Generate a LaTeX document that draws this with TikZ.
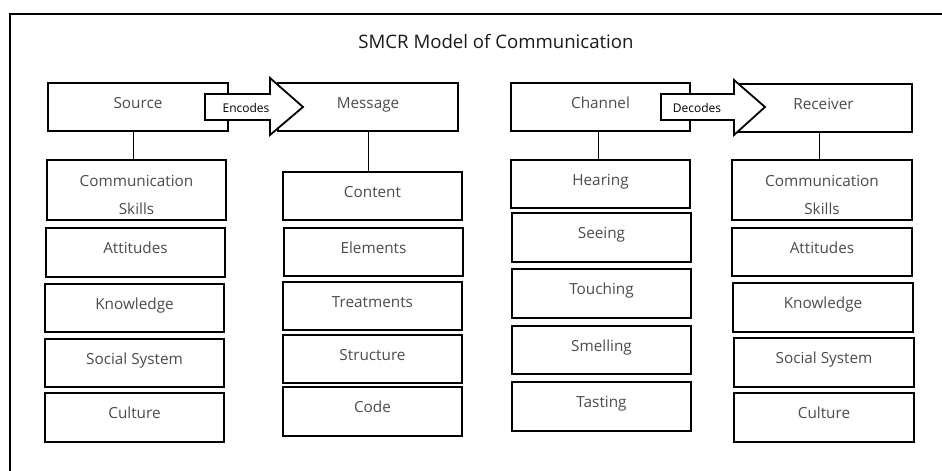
\documentclass[tikz,border=0pt]{standalone}
\usepackage{fontspec}
\setmainfont{Open Sans}
\begin{document}
\begin{tikzpicture}[x=1pt,y=-1pt,
  box/.style={draw=black, line width=1.8pt, fill=white, inner sep=0pt,
    font=\fontsize{15.3}{18}\selectfont, text=black!70,
    text height=10pt, text depth=8pt},
  box2/.style={draw=black, line width=1.8pt, fill=white, inner sep=0pt,
    font=\fontsize{15.3}{28}\selectfont, text=black!70, align=center},
  conn/.style={draw=black, line width=0.8pt},
  bigarrow/.style={draw=black, line width=1.8pt, fill=white, line join=miter},
  arrowtext/.style={font=\fontsize{12}{14}\selectfont, text=black, inner sep=0pt},
  frame/.style={draw=black, line width=2.4pt}
]
\useasboundingbox (0,0) rectangle (942,471);
\newcommand\bx[6]{\node[box, minimum width=#4pt-#2pt, minimum height=#5pt-#3pt] (#1) at ({(#2+#4)/2},{(#3+#5)/2}) {#6};}
\newcommand\bxtwo[6]{\node[box2, minimum width=#4pt-#2pt, minimum height=#5pt-#3pt] (#1) at ({(#2+#4)/2},{(#3+#5)/2}) {#6};}

% frame (cut at right and bottom)
\draw[frame] (10,471) -- (10,14) -- (942,14);

\node[font=\fontsize{18.6}{22}\selectfont, text=black!90] (title) at (496,41) {SMCR Model of Communication};

% Source column
\bx{src}{48}{83}{228}{131}{Source}
\bxtwo{scs}{47}{160}{226}{220}{\rule{0pt}{21pt}Communication\\Skills}
\bx{sat}{46}{228}{225}{277}{Attitudes}
\bx{skn}{45}{284}{224}{332}{Knowledge}
\bx{sss}{45}{339}{224}{387}{Social System}
\bx{scu}{45}{393}{224}{442}{Culture}

% Message column
\bx{msg}{278}{83}{458}{131}{Message}
\bx{mco}{283}{172}{462}{220}{Content}
\bx{mel}{284}{228}{463}{276}{Elements}
\bx{mtr}{283}{282}{462}{330}{Treatments}
\bx{mst}{283}{335}{462}{383}{Structure}
\bx{mcd}{283}{387}{462}{436}{Code}

% Channel column
\bx{chn}{511}{83}{690}{131}{Channel}
\bx{che}{511}{160}{690}{208}{Hearing}
\bx{cse}{512}{213}{691}{262}{Seeing}
\bx{cto}{512}{269}{691}{318}{Touching}
\bx{csm}{512}{326}{691}{374}{Smelling}
\bx{cta}{512}{382}{691}{431}{Tasting}

% Receiver column
\bx{rcv}{735}{84}{912}{132}{Receiver}
\bxtwo{rcs}{732}{160}{912}{220}{\rule{0pt}{21pt}Communication\\Skills}
\bx{rat}{732}{228}{912}{276}{Attitudes}
\bx{rkn}{733}{283}{913}{332}{Knowledge}
\bx{rss}{734}{338}{914}{387}{Social System}
\bx{rcu}{734}{393}{914}{442}{Culture}

% connectors
\draw[conn] ([xshift=-5pt]src.south) -- ([xshift=-5pt]src.south |- scs.north);
\draw[conn] (msg.south) -- (msg.south |- mco.north);
\draw[conn] ([xshift=-2pt]chn.south) -- ([xshift=-2pt]chn.south |- che.north);
\draw[conn] ([xshift=-4pt]rcv.south) -- ([xshift=-4pt]rcv.south |- rcs.north);

% block arrows
\draw[bigarrow] (205,94) -- (270,94) -- (270,78) -- (303,107) -- (270,135) -- (270,120) -- (205,120) -- cycle;
\node[arrowtext] (enc) at (246,108) {Encodes};
\draw[bigarrow] (661,94) -- (734,94) -- (734,80) -- (765,107) -- (734,135) -- (734,120) -- (661,120) -- cycle;
\node[arrowtext] (dec) at (697,108) {Decodes};
\end{tikzpicture}
\end{document}
